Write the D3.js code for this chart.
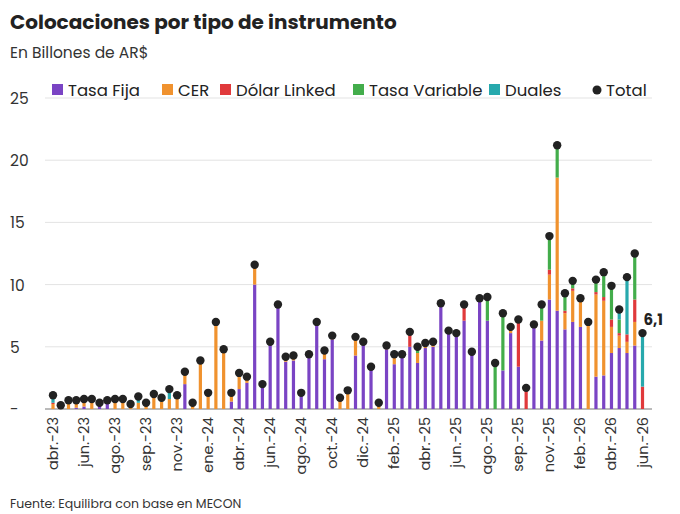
<!DOCTYPE html>
<html><head><meta charset="utf-8">
<script src="https://cdn.jsdelivr.net/npm/d3@7"></script>
<style>body{margin:0;background:#fff}svg{font-family:Poppins,"Inter","Noto Sans",sans-serif}</style>
</head><body><svg id="c" width="680" height="514"></svg>
<script>
const seriesNames=["Tasa Fija","CER","Dólar Linked","Tasa Variable","Duales"];
const colors=["#7a44c4","#f0922e","#e0393b","#43ad4b","#27a9ad"];
const tasaFija=[0,0,0,.1,.2,0,.3,.5,0,0,0,0,0,0,0,0,0,2.0,0,0,0,0,0,.6,1.6,2.1,10.0,2.0,5.4,8.2,3.8,3.9,1.3,4.4,6.8,4.0,5.6,0,0,4.3,5.4,3.4,0,4.8,3.6,4.4,5.0,3.7,4.9,5.0,8.5,6.3,6.1,7.1,4.6,8.9,7.1,0,3.1,6.1,3.4,0,6.8,5.5,8.8,7.9,6.4,7.0,6.6,0,2.6,2.7,4.5,4.9,4.5,5.1,0];
const cer=[.4,.3,.7,.6,.6,.8,.2,.2,.8,.8,.4,.5,.5,1.2,.6,.8,1.1,1.0,.5,3.9,1.3,7.0,4.8,.7,1.3,.5,1.4,0,0,.2,.2,.4,0,0,.2,.7,.3,.9,1.5,1.5,0,0,.5,.3,.8,0,0,.8,.4,.4,0,0,0,0,0,0,0,0,0,.2,0,0,0,1.6,2.0,10.7,1.3,2.5,2.3,6.8,6.6,6.0,2.1,1.0,.9,1.9,0];
const dolarLinked=[.1,0,0,0,0,0,0,0,0,0,0,0,0,0,0,0,0,0,0,0,0,0,0,0,0,0,.2,0,0,0,.2,0,0,0,0,0,0,0,0,0,0,0,0,0,0,0,1.2,0,0,0,0,0,0,1.3,0,0,0,0,0,0,3.8,1.7,0,0,.4,0,.2,.2,0,.2,.2,.3,.6,.2,.6,1.8,1.8];
const tasaVariable=[0,0,0,0,0,0,0,0,0,0,0,0,0,0,0,0,0,0,0,0,0,0,0,0,0,0,0,0,0,0,0,0,0,0,0,0,0,0,0,0,0,0,0,0,0,0,0,.5,0,0,0,0,0,0,0,0,1.9,3.7,4.6,.3,0,0,0,1.3,2.7,2.6,1.4,.6,0,0,1.0,2.0,2.7,1.1,0,3.7,0];
const duales=[.6,0,0,0,0,0,0,0,0,0,0,.5,0,0,.3,.8,0,0,0,0,0,0,0,0,0,0,0,0,0,0,0,0,0,0,0,0,0,0,0,0,0,0,0,0,0,0,0,0,0,0,0,0,0,0,0,0,0,0,0,0,0,0,0,0,0,0,0,0,0,0,0,0,0,.8,4.6,0,4.3];
const totals=[1.1,.3,.7,.7,.8,.8,.5,.7,.8,.8,.4,1.0,.5,1.2,.9,1.6,1.1,3.0,.5,3.9,1.3,7.0,4.8,1.3,2.9,2.6,11.6,2.0,5.4,8.4,4.2,4.3,1.3,4.4,7.0,4.7,5.9,.9,1.5,5.8,5.4,3.4,.5,5.1,4.4,4.4,6.2,5.0,5.3,5.4,8.5,6.3,6.1,8.4,4.6,8.9,9.0,3.7,7.7,6.6,7.2,1.7,6.8,8.4,13.9,21.2,9.3,10.3,8.9,7.0,10.4,11.0,9.9,8.0,10.6,12.5,6.1];
const tickLabels=["abr.-23","jun.-23","ago.-23","sep.-23","nov.-23","ene.-24","abr.-24","jun.-24","ago.-24","oct.-24","dic.-24","feb.-25","abr.-25","jun.-25","ago.-25","sep.-25","nov.-25","feb.-26","abr.-26","jun.-26"];
const yTicks=[0,5,10,15,20,25];

const svg=d3.select("#c");
const idx=d3.range(totals.length);
const x=d3.scalePoint().domain(idx).range([53,642.5]);
const y=d3.scaleLinear().domain([0,25]).range([409,98]);
const rows=idx.map(i=>({i,"Tasa Fija":tasaFija[i],"CER":cer[i],"Dólar Linked":dolarLinked[i],"Tasa Variable":tasaVariable[i],"Duales":duales[i]}));
const stack=d3.stack().keys(seriesNames)(rows);

svg.append("text").attr("x",10).attr("y",29).attr("font-size",20).attr("font-weight",700).attr("fill","#222").text("Colocaciones por tipo de instrumento");
svg.append("text").attr("x",10).attr("y",58).attr("font-size",15.5).attr("fill","#333").text("En Billones de AR$");
svg.append("text").attr("x",10).attr("y",508).attr("font-size",12.5).attr("fill","#333").text("Fuente: Equilibra con base en MECON");

svg.append("g").selectAll("line").data(yTicks.filter(d=>d>0)).join("line")
 .attr("x1",45).attr("x2",652).attr("y1",d=>y(d)).attr("y2",d=>y(d)).attr("stroke","#e3e3e3");
svg.append("g").selectAll("text").data(yTicks).join("text")
 .attr("x",10).attr("y",d=>y(d)+6).attr("font-size",15.5).attr("fill","#333").text(d=>d===0?"-":d);
svg.append("line").attr("x1",45).attr("x2",652).attr("y1",y(0)).attr("y2",y(0)).attr("stroke","#777");

stack.forEach((s,k)=>{
 svg.append("g").selectAll("rect").data(s.filter(d=>d[1]>d[0])).join("rect")
  .attr("x",d=>x(d.data.i)-1.6).attr("width",3.2)
  .attr("y",d=>y(d[1])).attr("height",d=>y(d[0])-y(d[1])).attr("fill",colors[k]);
});
svg.append("g").selectAll("circle").data(idx).join("circle")
 .attr("cx",i=>x(i)).attr("cy",i=>y(totals[i])).attr("r",4.2).attr("fill","#222");
const last=idx.length-1;
svg.append("text").attr("x",x(last)+1).attr("y",y(totals[last])-8).attr("font-size",15).attr("font-weight",700).attr("fill","#222").text(String(totals[last]).replace(".",","));

svg.append("g").selectAll("text").data(tickLabels).join("text")
 .attr("transform",(d,j)=>`translate(${x(j*4)+5},417) rotate(-90)`)
 .attr("text-anchor","end").attr("font-size",14.5).attr("fill","#333").text(d=>d);

const lg=[[52,0],[162,1],[220,2],[353,3],[489,4]];
lg.forEach(([lx,k])=>{
 svg.append("rect").attr("x",lx).attr("y",84).attr("width",11).attr("height",11).attr("fill",colors[k]);
 svg.append("text").attr("x",lx+16).attr("y",96).attr("font-size",16.5).attr("fill","#222").text(seriesNames[k]);
});
svg.append("circle").attr("cx",597).attr("cy",90).attr("r",4.5).attr("fill","#222");
svg.append("text").attr("x",606).attr("y",96).attr("font-size",16.5).attr("fill","#222").text("Total");
</script></body></html>
